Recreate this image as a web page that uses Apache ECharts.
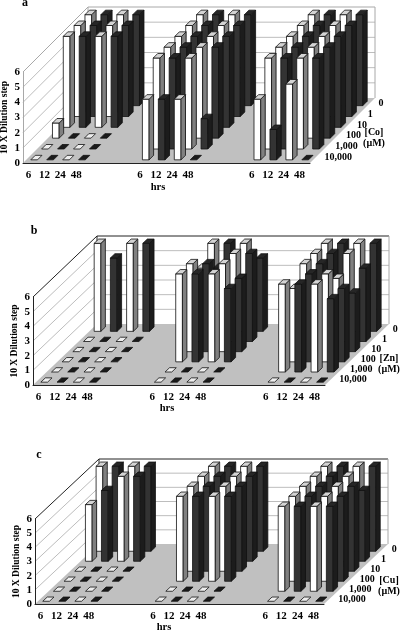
<!DOCTYPE html>
<html>
<head>
<meta charset="utf-8">
<style>
  html, body { margin: 0; padding: 0; background: #fff; }
  #chart { width: 400px; height: 631px; }
</style>
<script src="https://cdn.jsdelivr.net/npm/echarts@6/dist/echarts.min.js"></script>
</head>
<body>
<div id="chart"></div>
<script>
// hours on the x axis, three blocks with three empty slots between them
const xLabels = ['6', '12', '24', '48', '', '', '', '6', '12', '24', '48', '', '', '', '6', '12', '24', '48']
const barSlots = [0, 1, 2, 3, 7, 8, 9, 10, 14, 15, 16, 17]
const yTicks = [0, 1, 2, 3, 4, 5, 6]
// rows run from the back of the plot (0) to the front (10,000)
const concLabels = ['0', '1', '10', '100', '1,000', '10,000']

const valuesCo = [
  [6, 6, 6, 6, 6, 6, 6, 6, 6, 6, 6, 6],
  [6, 6, 6, 6, 6, 6, 6, 6, 6, 6, 6, 6],
  [6, 6, 6, 6, 6, 6, 6, 6, 6, 6, 6, 6],
  [1, 0, 0, 0, 6, 6, 6, 6, 6, 6, 6, 6],
  [0, 0, 0, 0, 6, 6, 6, 2, 6, 6, 6, 6],
  [0, 0, 0, 0, 4, 4, 4, 0, 4, 2, 5, 0]
]
const valuesZn = [
  [6, 5, 6, 6, 6, 6, 6, 5, 6, 6, 6, 6],
  [0, 0, 0, 0, 5, 5, 6, 6, 6, 6, 6, 5],
  [0, 0, 0, 0, 6, 6, 6, 5, 6, 6, 5, 4],
  [0, 0, 0, 0, 6, 6, 6, 5, 5, 6, 6, 5],
  [0, 0, 0, 0, 0, 0, 0, 0, 6, 6, 6, 5],
  [0, 0, 0, 0, 0, 0, 0, 0, 0, 0, 0, 0]
]
const valuesCu = [
  [6, 6, 6, 6, 6, 6, 6, 6, 6, 6, 6, 6],
  [4, 5, 6, 6, 6, 6, 6, 6, 6, 6, 6, 5],
  [0, 0, 0, 0, 6, 6, 6, 6, 6, 6, 6, 6],
  [0, 0, 0, 0, 6, 6, 6, 6, 6, 6, 6, 6],
  [0, 0, 0, 0, 0, 0, 0, 0, 6, 6, 6, 6],
  [0, 0, 0, 0, 0, 0, 0, 0, 0, 0, 0, 0]
]

const panels = [
  { tag: 'a', metal: '[Co]', values: valuesCo, left: 23, top: 72, width: 287, height: 91, dx: 65, dy: 65, frame: '#a8a8a8', tagAt: [25, 3], hrsAt: [158, 187], metalAt: [374, 132] },
  { tag: 'b', metal: '[Zn]', values: valuesZn, left: 33, top: 297, width: 292, height: 88, dx: 64, dy: 61, frame: '#222', tagAt: [34, 231], hrsAt: [167, 408], metalAt: [389, 358] },
  { tag: 'c', metal: '[Cu]', values: valuesCu, left: 35, top: 519, width: 289, height: 85, dx: 64, dy: 60, frame: '#222', tagAt: [39, 455], hrsAt: [164, 627], metalAt: [389, 580] }
]

const font = 'Liberation Serif'
const barW = 6.7
const barD = 4.5

const renderFrame = panel => (params, api) => {
  const v = api.value(0)
  const front = api.coord([0, v])
  const x0 = panel.left
  const x1 = panel.left + panel.width
  const y = front[1]
  const children = []
  if (v === 0) {
    children.push({
      type: 'polygon',
      shape: { points: [[x0, y], [x1, y], [x1 + panel.dx, y - panel.dy], [x0 + panel.dx, y - panel.dy]] },
      style: { fill: '#c0c0c0' }
    })
  }
  const lineColor = v === 6 ? panel.frame : '#bdbdbd'
  children.push({
    type: 'polyline',
    shape: { points: [[x0, y], [x0 + panel.dx, y - panel.dy], [x1 + panel.dx, y - panel.dy]] },
    style: { stroke: v === 0 ? 'none' : lineColor, lineWidth: 1, fill: 'none' }
  })
  if (v === 6) {
    const base = api.coord([0, 0])[1] - panel.dy
    children.push({
      type: 'line',
      shape: { x1: x0 + panel.dx, y1: y - panel.dy, x2: x0 + panel.dx, y2: base },
      style: { stroke: panel.frame, lineWidth: 1 }
    })
    children.push({
      type: 'line',
      shape: { x1: x1 + panel.dx, y1: y - panel.dy, x2: x1 + panel.dx, y2: base },
      style: { stroke: '#a8a8a8', lineWidth: 1 }
    })
  }
  return { type: 'group', children }
}

const renderBar = panel => (params, api) => {
  const slot = api.value(0)
  const row = api.value(1)
  const v = api.value(2)
  const isWhite = params.dataIndex % 2 === 0
  const stepX = panel.dx / concLabels.length
  const stepY = panel.dy / concLabels.length
  const steps = concLabels.length - 1 - row
  const gapX = (stepX - barD) / 2
  const gapY = (stepY - barD) / 2
  const top = api.coord([slot, v])
  const bottom = api.coord([slot, 0])
  const x = top[0] - barW / 2 + gapX + steps * stepX
  const yTop = top[1] - gapY - steps * stepY
  const yBase = bottom[1] - gapY - steps * stepY
  const dy = barD * stepY / stepX
  const edge = { stroke: '#111', lineWidth: 0.8 }
  const children = []
  if (v > 0) {
    children.push({
      type: 'polygon',
      shape: { points: [[x, yTop], [x + barW, yTop], [x + barW, yBase], [x, yBase]] },
      style: { fill: isWhite ? '#fff' : '#333', ...edge }
    })
    children.push({
      type: 'polygon',
      shape: { points: [[x + barW, yTop], [x + barW + barD, yTop - dy], [x + barW + barD, yBase - dy], [x + barW, yBase]] },
      style: { fill: isWhite ? '#808080' : '#1c1c1c', ...edge }
    })
  }
  children.push({
    type: 'polygon',
    shape: { points: [[x, yTop], [x + barW, yTop], [x + barW + barD, yTop - dy], [x + barD, yTop - dy]] },
    style: { fill: v > 0 ? (isWhite ? '#d4d4d4' : '#262626') : (isWhite ? '#eee' : '#1a1a1a'), ...edge }
  })
  return { type: 'group', children }
}

const renderConc = panel => (params, api) => {
  const row = api.value(0)
  const steps = concLabels.length - 1 - row
  const stepX = panel.dx / concLabels.length
  const stepY = panel.dy / concLabels.length
  const origin = api.coord([xLabels.length - 1, 0])
  const cellW = panel.width / xLabels.length
  return {
    type: 'text',
    style: {
      x: origin[0] + cellW / 2 + (steps + 0.5) * stepX + 9,
      y: origin[1] - (steps + 0.5) * stepY,
      text: concLabels[row],
      fill: '#000',
      font: 'bold 10px "' + font + '"',
      textAlign: 'left',
      textVerticalAlign: 'middle'
    }
  }
}

const textEl = (x, y, text, size) => ({
  type: 'text',
  x,
  y,
  style: { text, fill: '#000', font: 'bold ' + size + 'px "' + font + '"', textAlign: 'center', textVerticalAlign: 'middle' }
})

const option = {
  animation: false,
  backgroundColor: '#fff',
  grid: panels.map(p => ({ left: p.left, top: p.top, width: p.width, height: p.height, outerBoundsMode: 'none' })),
  xAxis: panels.map((p, i) => ({
    type: 'category',
    gridIndex: i,
    data: xLabels,
    z: 5,
    axisLine: { lineStyle: { color: '#222', width: 1 } },
    axisTick: { show: false },
    axisLabel: { interval: 0, margin: 7, padding: [0, 5, 0, 0], color: '#000', fontFamily: font, fontWeight: 'bold', fontSize: 11 }
  })),
  yAxis: panels.map((p, i) => ({
    type: 'value',
    gridIndex: i,
    min: 0,
    max: 6,
    interval: 1,
    name: '10 X Dilution step',
    nameLocation: 'middle',
    nameGap: 13,
    nameMoveOverlap: false,
    nameTextStyle: { color: '#000', fontFamily: font, fontWeight: 'bold', fontSize: 9.5 },
    z: 5,
    splitLine: { show: false },
    axisLine: { show: true, lineStyle: { color: p.frame, width: 1 } },
    axisTick: { show: false },
    axisLabel: { margin: 3, color: '#000', fontFamily: font, fontWeight: 'bold', fontSize: 11 }
  })),
  series: panels.flatMap((p, i) => {
    const bars = []
    p.values.forEach((row, r) => {
      row.forEach((v, k) => bars.push([barSlots[k], r, v]))
    })
    return [
      {
        type: 'custom',
        xAxisIndex: i,
        yAxisIndex: i,
        z: 1,
        silent: true,
        data: yTicks.map(v => [v]),
        encode: { y: 0 },
        renderItem: renderFrame(p)
      },
      {
        type: 'custom',
        xAxisIndex: i,
        yAxisIndex: i,
        z: 2,
        silent: true,
        data: bars,
        encode: { x: 0, y: 2 },
        renderItem: renderBar(p)
      },
      {
        type: 'custom',
        xAxisIndex: i,
        yAxisIndex: i,
        z: 3,
        silent: true,
        data: concLabels.map((c, r) => [r]),
        encode: { y: 0 },
        renderItem: renderConc(p)
      }
    ]
  }),
  graphic: panels.flatMap(p => [
    textEl(p.tagAt[0], p.tagAt[1], p.tag, 12),
    textEl(p.hrsAt[0], p.hrsAt[1], 'hrs', 10.5),
    textEl(p.metalAt[0], p.metalAt[1], p.metal, 10),
    textEl(p.metalAt[0], p.metalAt[1] + 11, '(µM)', 10)
  ])
}

const myChart = echarts.init(document.getElementById('chart'))
myChart.setOption(option)
</script>
</body>
</html>
